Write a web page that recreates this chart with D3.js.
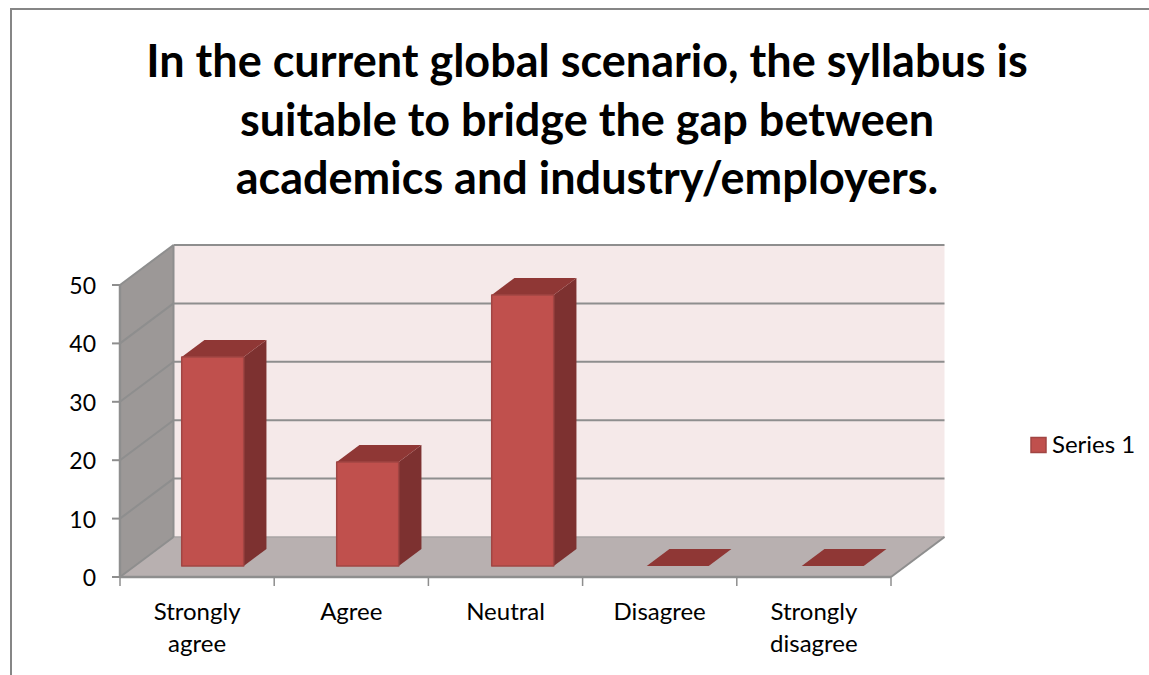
<!DOCTYPE html>
<html><head><meta charset="utf-8">
<script src="https://cdn.jsdelivr.net/npm/d3@7"></script>
<style>html,body{margin:0;padding:0;background:#fff}svg{display:block}text{font-family:Lato,"Open Sans",sans-serif;fill:#000}</style>
</head><body><svg id="c" width="1149" height="675"></svg>
<script>
const titleLines = ["In the current global scenario, the syllabus is","suitable to bridge the gap between","academics and industry/employers."];
const categories = [["Strongly","agree"],["Agree"],["Neutral"],["Disagree"],["Strongly","disagree"]];
const seriesName = "Series 1";
const values = [35.8, 17.8, 46.4, 0, 0];
const yTicks = [0,10,20,30,40,50];

const svg = d3.select("#c");
const x = d3.scaleBand().domain(d3.range(categories.length)).range([120,891]);
const xBar = d3.scaleBand().domain(d3.range(categories.length)).range([120.5,895.5]);
const y = d3.scaleLinear().domain([0,50]).range([577,285]);
const dxS = d3.scaleLinear().domain([0,1]).range([0,53.5]);
const dyS = d3.scaleLinear().domain([0,1]).range([0,-40]);
const grey = "#8e8e8e";
const pt = (v,xp,t)=>[xp+dxS(t), y(v)+dyS(t)];
const poly = (pts,fill,stroke,sw)=>svg.append("polygon").attr("points",pts.map(p=>p.join(",")).join(" ")).attr("fill",fill).attr("stroke",stroke||"none").attr("stroke-width",sw||0).attr("stroke-linejoin","round");
const line = (a,b,c,w)=>svg.append("line").attr("x1",a[0]).attr("y1",a[1]).attr("x2",b[0]).attr("y2",b[1]).attr("stroke",c).attr("stroke-width",w);
const [x0,x1] = x.range();

// outer frame
svg.append("path").attr("d","M11,675V9H1149").attr("fill","none").attr("stroke","#868686").attr("stroke-width",2);

// title
svg.append("g").selectAll("text").data(titleLines).join("text")
  .attr("x",587).attr("y",(d,i)=>77+i*58.5).attr("text-anchor","middle")
  .attr("font-size",45).attr("font-weight",700).text(d=>d);

// walls
poly([pt(0,x0,1),pt(0,x1,1),pt(50,x1,1),pt(50,x0,1)],"#f5e9e9");
poly([pt(0,x0,0),pt(0,x0,1),pt(50,x0,1),pt(50,x0,0)],"#9c9897");
poly([pt(0,x0,0),pt(0,x1,0),pt(0,x1,1),pt(0,x0,1)],"#b8b0b0");

// gridlines
yTicks.forEach(v=>{
  if(v>0) line(pt(v,x0,0),pt(v,x0,1),grey,2);
  if(v>0) line(pt(v,x0,1),pt(v,x1,1),grey,2);
});
line(pt(0,x0,1),pt(0,x1,1),"#a9a4a4",1.5);
line(pt(0,x0,0),pt(0,x0,1),grey,2);
line(pt(0,x1,0),pt(0,x1,1),grey,2);
line(pt(0,x0,1),pt(50,x0,1),grey,2);
line(pt(0,x0,0),pt(50,x0,0),grey,2.5);
line(pt(0,x0,0),pt(0,x1,0),grey,2.5);

// bars
const wR = 0.40, t0 = 0.275, t1 = 0.70;
values.forEach((v,i)=>{
  const w = xBar.bandwidth()*wR;
  const l = xBar(i)+(xBar.bandwidth()-w)/2, r = l+w;
  if(v>0){
    poly([pt(v,r,t0),pt(v,r,t1),pt(0,r,t1),pt(0,r,t0)],"#7d3130");
  }
  poly([pt(v,l,t0),pt(v,r,t0),pt(v,r,t1),pt(v,l,t1)],"#8f3735");
  if(v>0){
    poly([pt(0,l,t0),pt(0,r,t0),pt(v,r,t0),pt(v,l,t0)],"#c0504d","#a14543",1.5);
  }
});

// y ticks + labels
yTicks.forEach(v=>{
  line([x0-8,y(v)],[x0,y(v)],grey,2);
  svg.append("text").attr("x",96).attr("y",y(v)+9).attr("text-anchor","end").attr("font-size",23).text(v);
});
// x ticks + labels
d3.range(categories.length+1).forEach(i=>{
  const xp = i<categories.length ? x(i) : x1;
  line([xp,577],[xp,586],grey,1.5);
});
categories.forEach((c,i)=>{
  c.forEach((s,j)=>svg.append("text").attr("x",x(i)+x.bandwidth()/2).attr("y",620+j*32).attr("text-anchor","middle").attr("font-size",24).text(s));
});

// legend
svg.append("rect").attr("x",1031).attr("y",437.5).attr("width",15).attr("height",15).attr("fill","#c0504d").attr("stroke","#a14543").attr("stroke-width",1.5);
svg.append("text").attr("x",1052).attr("y",453).attr("font-size",24).text(seriesName);
</script></body></html>
